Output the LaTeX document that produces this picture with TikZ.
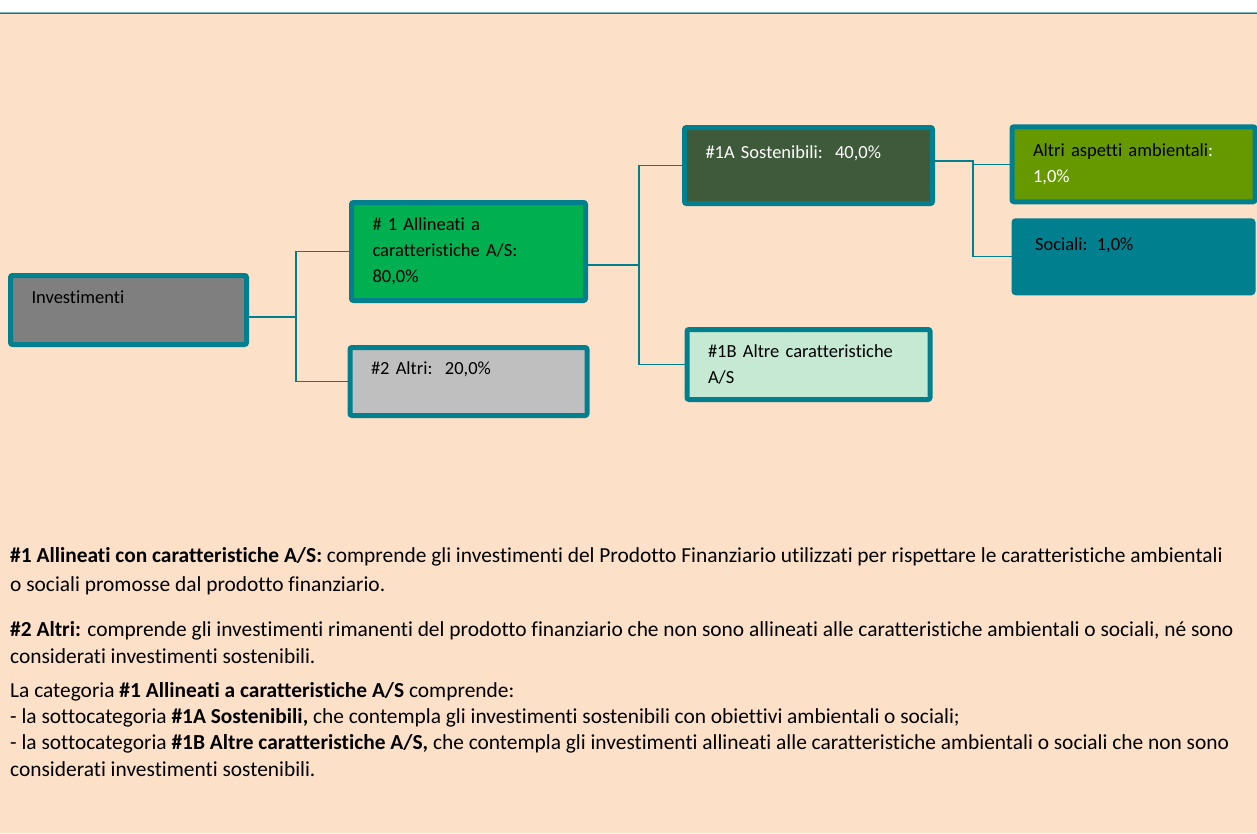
\documentclass[tikz,border=0pt]{standalone}
\usepackage{fontspec}
\setmainfont{Carlito}[Ligatures=NoCommon]
\usetikzlibrary{trees}

\definecolor{peach}{RGB}{253,224,200}
\definecolor{petrol}{RGB}{0,128,143}
\definecolor{petrollight}{RGB}{128,184,194}
\definecolor{greyinv}{RGB}{127,127,127}
\definecolor{greenall}{RGB}{0,176,80}
\definecolor{greyalt}{RGB}{191,191,191}
\definecolor{greensost}{RGB}{62,90,58}
\definecolor{mintcar}{RGB}{198,233,211}
\definecolor{oliveamb}{RGB}{102,153,0}

\begin{document}
\begin{tikzpicture}[
  x=1pt, y=-1pt,
  grow'=right,
  level distance=340pt,
  fork/.style 2 args={edge from parent path={([yshift=#2]\tikzparentnode.east) -- ([xshift=#1, yshift=#2]\tikzparentnode.east) |- (\tikzchildnode.west)}},
  level 1/.style={sibling distance=130pt, fork={47pt}{-7pt}, every child node/.style={yshift=-6.5pt}},
  level 2/.style={sibling distance=199pt, fork={51pt}{-13.5pt}, every child node/.style={yshift=-13.5pt}},
  level 3/.style={sibling distance=92.5pt, level distance=325pt, fork={38pt}{4.5pt}, every child node/.style={yshift=-45pt}},
  edge from parent/.style={draw=petrol, line width=1.2pt},
  box/.style={draw=petrol, line width=5pt, rounded corners=2pt, align=left,
    inner xsep=21pt, inner ysep=0pt, font=\fontsize{18.5}{26}\selectfont},
  para/.style={anchor=north west, inner sep=0pt, align=left,
    font=\fontsize{21.4}{26.3}\selectfont}]
\useasboundingbox (0,0) rectangle (1257,833);
\fill[white] (0,0) rectangle (1257,14);
\fill[peach] (0,14) rectangle (1257,833);
\draw[petrollight, line width=1pt] (0,12.5) -- (1257,12.5);
\draw[petrol, line width=1pt] (0,13.5) -- (1257,13.5);

\node[box, fill=greyinv, text width=194pt, minimum height=69pt] (inv) at (128.5,310) {Investimenti\\\mbox{}}
  child {
    node[box, fill=greenall, text width=192pt, minimum height=98pt] (all) {\# 1 Allineati a\\caratteristiche A/S:\\80,0\%}
    child {
      node[box, fill=greensost, text=white, text width=206pt, minimum height=76pt] (sost) {\#1A Sostenibili:\ \ 40,0\%\\\mbox{}}
      child {node[box, fill=oliveamb, text width=201pt, minimum height=75pt] (amb) {Altri aspetti ambientali{\color{white}:}\\{\color{white}1,0\%}}}
      child {node[box, fill=petrol, text width=197pt, minimum height=72pt] (soc) {Sociali: 1,0\%\\\mbox{}}}
    }
    child {node[box, fill=mintcar, text width=201pt, minimum height=70pt] (car) {\#1B Altre caratteristiche\\A/S}}
  }
  child {node[box, fill=greyalt, text width=195pt, minimum height=68pt] (alt) {\#2 Altri:\ \ 20,0\%\\\mbox{}}};

\node[para, font=\fontsize{21.4}{29}\selectfont] (def1) at (10,547) {\textbf{\#1 Allineati con caratteristiche A/S:} comprende gli investimenti del Prodotto Finanziario utilizzati per rispettare le caratteristiche ambientali\\o sociali promosse dal prodotto finanziario.};
\node[para, font=\fontsize{21.4}{27}\selectfont] (def2) at (10,621) {\textbf{\#2 Altri:} comprende gli investimenti rimanenti del prodotto finanziario che non sono allineati alle caratteristiche ambientali o sociali, né sono\\considerati investimenti sostenibili.};
\node[para] (def3) at (10,682) {La categoria \textbf{\#1 Allineati a caratteristiche A/S} comprende:\\- la sottocategoria \textbf{\#1A Sostenibili,} che contempla gli investimenti sostenibili con obiettivi ambientali o sociali;\\- la sottocategoria \textbf{\#1B Altre caratteristiche A/S,} che contempla gli investimenti allineati alle caratteristiche ambientali o sociali che non sono\\considerati investimenti sostenibili.};
\end{tikzpicture}
\end{document}
